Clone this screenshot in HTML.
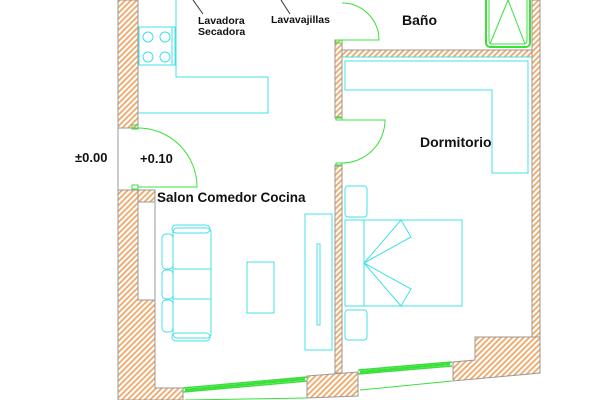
<!DOCTYPE html>
<html><head><meta charset="utf-8"><style>
html,body{margin:0;padding:0;background:#fff;}
svg{display:block;}
text{font-family:"Liberation Sans",Arial,sans-serif;font-weight:bold;fill:#111;}
</style></head><body>
<svg width="600" height="400" viewBox="0 0 600 400" xmlns="http://www.w3.org/2000/svg">
<defs>
<pattern id="h" patternUnits="userSpaceOnUse" width="4" height="4" patternTransform="rotate(45)">
<rect width="4" height="4" fill="#fff"/><rect width="1.8" height="4" fill="#eea868"/>
</pattern>
</defs>
<g stroke="#999" stroke-width="1" fill="url(#h)">
<rect x="118" y="0" width="20" height="128"/>
<path d="M118 190 H138 V300 H155 V388 H183 V400 H118 Z"/>
<rect x="138" y="190" width="17" height="12" fill="url(#h)"/>
<rect x="138" y="202" width="17" height="98" fill="#fff"/>
<rect x="335" y="40" width="7" height="78"/>
<rect x="335" y="165" width="7" height="208"/>
<rect x="342" y="50" width="190" height="7"/>
<rect x="532" y="0" width="8" height="337"/>
<path d="M475 337 H540 V373 L453 381 V362 L475 360 Z"/>
<path d="M307 376 L358 372 V396 L307 398 Z"/>
</g>
<line x1="118" y1="128" x2="118" y2="190" stroke="#999"/>
<g stroke="#3be03b" fill="none">
<path d="M183 388 L307 377 M183 392 L307 381" stroke-width="1.5"/>
<path d="M185 390 L305 379" stroke-width="2.5"/>
<path d="M185 400 L307 398"/>
<path d="M358 370 L452 362 M358 374 L452 366" stroke-width="1.5"/>
<path d="M360 372 L450 364" stroke-width="2.5"/>
<path d="M360 390 L452 381"/>
<path d="M138 128 A59 59 0 0 1 197 187 H138"/>
<rect x="132" y="125" width="6" height="4"/><rect x="132" y="185" width="6" height="4"/>
<path d="M342 3 A37 37 0 0 1 379 40 H342"/>
<rect x="336" y="40" width="6" height="3"/>
<path d="M342 120 H385 A43 43 0 0 1 342 163"/>
<rect x="336" y="117" width="6" height="3"/><rect x="336" y="163" width="6" height="3"/>
<rect x="486" y="-5" width="44" height="52" rx="4" stroke-width="2"/>
<rect x="489" y="-5" width="38" height="49" rx="3"/>
<path d="M508 0 L490 44 M508 0 L525 44"/>
</g>
<g stroke="#40e0e8" fill="none" stroke-width="1">
<path d="M176 0 V77 H268 V113 H138"/>
<rect x="139" y="27" width="36" height="38"/>
<line x1="172" y1="27" x2="172" y2="65"/>
<circle cx="148" cy="37" r="5"/><circle cx="165" cy="37" r="5"/>
<circle cx="148" cy="57" r="5"/><circle cx="165" cy="57" r="5"/>
<path d="M345 61 H528 V173 H492 V90 H345 Z"/>
<path d="M342 57 H532"/>
<rect x="345" y="220" width="117" height="86"/>
<line x1="364" y1="220" x2="364" y2="306"/>
<path d="M364 263 L401 220 L411 237 Z M364 263 L401 306 L411 289 Z"/>
<rect x="345" y="186" width="22" height="31" rx="3"/>
<rect x="345" y="310" width="22" height="30" rx="3"/>
<rect x="172" y="225" width="38" height="8" rx="4"/>
<rect x="172" y="333" width="38" height="8" rx="4"/>
<rect x="173" y="228" width="38" height="110" rx="4"/>
<rect x="162" y="234" width="11" height="35" rx="4"/>
<rect x="162" y="270" width="11" height="29" rx="4"/>
<rect x="162" y="300" width="11" height="32" rx="4"/>
<line x1="173" y1="269" x2="211" y2="269"/>
<line x1="173" y1="299" x2="211" y2="299"/>
<rect x="247" y="262" width="27" height="51"/>
<rect x="305" y="214" width="27" height="136"/>
<rect x="317" y="244" width="3" height="81"/>
</g>
<g stroke="#333" stroke-width="1">
<line x1="203" y1="14" x2="193" y2="0"/>
<line x1="290" y1="14" x2="281" y2="0"/>
</g>
<text x="198" y="24" font-size="10.5">Lavadora</text>
<text x="198" y="35" font-size="10.5">Secadora</text>
<text x="271" y="23" font-size="10.5">Lavavajillas</text>
<text x="402" y="25" font-size="14">Baño</text>
<text x="420" y="147" font-size="14">Dormitorio</text>
<text x="157" y="202" font-size="13.5">Salon Comedor Cocina</text>
<text x="140" y="163" font-size="13">+0.10</text>
<text x="75" y="162" font-size="13">±0.00</text>
</svg>
</body></html>
